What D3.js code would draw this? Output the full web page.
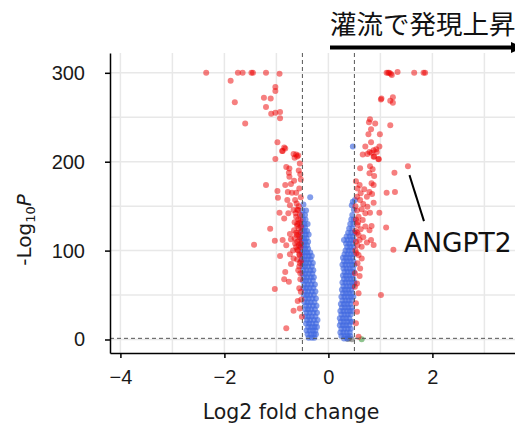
<!DOCTYPE html>
<html>
<head>
<meta charset="utf-8">
<script src="https://cdn.jsdelivr.net/npm/d3@7"></script>
<style>
  body { margin: 0; background: #fff; }
  svg { display: block; font-family: "DejaVu Sans", Verdana, sans-serif; }
  .grid line { stroke: #e8e8e8; stroke-width: 1.5; }
  .axis text { font-size: 20px; fill: #1a1a1a; }
  .axis path, .axis line { stroke: #000; stroke-width: 1.5; }
</style>
</head>
<body>
<svg id="chart" width="515" height="423"></svg>
<script>
// ---- data (log2 fold change, -log10 p) ----
const xTicks = [-4, -2, 0, 2];
const yTicks = [0, 100, 200, 300];
const xGrid = [-4, -3, -2, -1, 0, 1, 2, 3];
const yGrid = [0, 50, 100, 150, 200, 250, 300];
const fcCut = 0.5;
const pCut = 1.3;

// red: significant by both p and fold change
const upDown = [
  [-2.35,300],[-1.74,300],[-1.65,300],[-1.48,300],[-1.45,300],[-1.2,300],[-0.94,299],
  [-1.88,291],[-1.02,284],[-1.02,279.5],[-1.24,272],[-1.11,271],[-1.8,267],[-1.2,261.5],
  [-1.1,254],[-1.02,255],[-0.93,256],[-0.93,249],[-1.6,243],[-0.98,222],[-0.85,216],
  [-0.83,215],[-0.88,212],[-0.62,208],[-0.58,207],[-0.65,204.5],[-1.02,203],[-0.89,212],
  [-0.67,208.7],[-0.6,206],[-0.81,194],[-0.75,192.5],[-0.76,187.6],[-0.54,186],[-0.75,183],
  [-0.66,178.6],[-1.2,173.8],[-0.83,173.8],[-0.72,175],[-0.98,167],[-0.78,166],[-0.7,165],
  [-0.62,165],[-0.97,159.5],[-0.79,157],[-0.64,157],[-0.61,153],[-0.74,151],[-0.67,145.7],
  [-0.58,145.7],[-0.94,142.6],[-0.77,142],[-0.85,136],[-0.62,138],[-0.54,134],[-0.6,130],
  [-1.12,124.6],[-0.66,123],[-0.54,121],[-0.74,118.7],[-0.61,117.5],[-1.03,111],[-0.88,112],
  [-0.72,112.7],[-0.56,112],[-0.64,108],[-1.43,106.6],[-0.81,106],[-0.54,104],[-0.62,104],
  [-0.93,94],[-0.74,96],[-0.67,91],[-0.72,85],[-0.83,76],[-0.54,74.5],[-0.85,67.7],
  [-0.76,65],[-0.54,67.7],[-1.03,56.8],[-0.56,57.6],[-0.53,53.8],[-0.59,43.3],[-0.67,32.4],
  [-0.51,25.6],[-0.81,12.6],[-0.55,198],[-0.57,190],[-0.53,180],[-0.56,170],[-0.53,160],
  [-0.57,150],[-0.55,140],[-0.53,127],[-0.57,125],[-0.55,115],[-0.53,108],[-0.58,100],
  [-0.55,95],[-0.53,88],[-0.56,82],[-0.52,45],[-0.55,35],[-0.6,146],[-0.63,142],[-0.58,135],
  [-0.6,128],[-0.65,132],[-0.56,131],[-0.62,120],[-0.58,118],[-0.6,110],[-0.65,114],
  [-0.57,106],[-0.6,101],[-0.68,100],[-0.56,96],[-0.6,90],[-0.55,86],[-0.58,78],
  [1.12,300],[1.15,300],[1.17,300],[1.2,299],[1.22,297.5],[1.33,301],[1.65,300],[1.83,300],
  [1.86,300],[1.01,270],[1.02,271],[1.24,272.5],[1.19,268.6],[1.24,266.4],[0.8,247.7],
  [0.78,244.3],[0.9,243],[1.19,241],[0.82,236.4],[0.77,231],[0.99,230.8],[0.82,222],
  [0.71,217],[0.98,217],[0.87,213],[0.79,211],[0.92,214],[0.75,208.7],[0.66,208],
  [0.87,205.6],[0.96,203],[0.83,210],[0.88,206],[0.93,211],[0.97,202.7],[0.8,195],
  [0.61,192.6],[0.85,191.4],[0.79,187],[0.88,184],[0.83,175.7],[0.87,173.8],[1.27,187.6],
  [1.53,195],[0.6,173.8],[0.69,169],[0.79,166],[0.62,164.5],[0.74,160.6],[0.84,163.7],
  [1.12,165],[1.28,166],[0.55,160.6],[0.61,157],[0.67,152.4],[0.75,149.4],[0.87,153.9],
  [0.64,146.5],[0.8,142.6],[0.71,142],[0.98,142.6],[0.58,138],[0.66,134.4],[0.56,128.8],
  [0.71,127],[0.62,124],[0.79,123],[0.83,127.7],[1.11,126],[0.58,117.5],[0.67,115],
  [0.6,112],[0.74,109],[0.64,104.4],[0.87,106.3],[0.82,112],[1.25,101],[1.01,50],
  [0.58,95],[0.64,91],[0.56,85.7],[0.61,80],[0.6,71.4],[0.51,74.5],[0.55,63],[0.51,59.4],
  [0.58,52],[0.53,40.7],[0.55,31.3],[0.53,18.2],[0.58,3.1],[0.53,178],[0.56,170],
  [0.52,150],[0.55,145],[0.53,135],[0.57,132],[0.52,122],[0.55,120],[0.53,110],
  [0.56,106],[0.52,100],[0.54,97]
];

// blue: significant p only
const pOnlyLeft = [
  [-0.38,2],[-0.32,2],[-0.27,2],
  [-0.40,6],[-0.34,6],[-0.28,6],[-0.24,6],
  [-0.42,10],[-0.36,10],[-0.30,10],[-0.25,10],
  [-0.39,14],[-0.33,14],[-0.27,14],[-0.22,14],
  [-0.43,18],[-0.37,18],[-0.31,18],[-0.24,18],
  [-0.41,22],[-0.35,22],[-0.28,22],[-0.21,22],
  [-0.44,26],[-0.38,26],[-0.32,26],[-0.25,26],
  [-0.42,30],[-0.36,30],[-0.29,30],[-0.22,30],
  [-0.45,34],[-0.39,34],[-0.33,34],[-0.26,34],
  [-0.43,38],[-0.37,38],[-0.30,38],[-0.23,38],
  [-0.46,42],[-0.40,42],[-0.34,42],[-0.27,42],
  [-0.44,46],[-0.38,46],[-0.31,46],[-0.24,46],
  [-0.47,50],[-0.41,50],[-0.35,50],[-0.28,50],
  [-0.45,54],[-0.39,54],[-0.32,54],[-0.25,54],
  [-0.48,58],[-0.42,58],[-0.36,58],[-0.29,58],
  [-0.46,62],[-0.40,62],[-0.33,62],[-0.26,62],
  [-0.49,66],[-0.43,66],[-0.37,66],[-0.30,66],
  [-0.47,70],[-0.41,70],[-0.34,70],[-0.28,70],
  [-0.50,74],[-0.44,74],[-0.38,74],[-0.31,74],
  [-0.48,78],[-0.42,78],[-0.35,78],[-0.29,78],
  [-0.50,82],[-0.45,82],[-0.39,82],[-0.32,82],
  [-0.49,86],[-0.43,86],[-0.37,86],[-0.30,86],
  [-0.51,90],[-0.46,90],[-0.40,90],[-0.34,90],
  [-0.50,94],[-0.44,94],[-0.38,94],[-0.32,94],
  [-0.51,98],[-0.46,98],[-0.41,98],[-0.35,98],
  [-0.50,102],[-0.45,102],[-0.39,102],
  [-0.52,106],[-0.47,106],[-0.41,106],
  [-0.50,110],[-0.45,110],[-0.39,110],
  [-0.52,114],[-0.47,114],[-0.42,114],
  [-0.50,118],[-0.44,118],[-0.38,118],
  [-0.51,122],[-0.46,122],[-0.41,122],
  [-0.50,126],[-0.45,126],
  [-0.51,130],[-0.46,130],[-0.40,130],
  [-0.49,135],[-0.44,135],
  [-0.51,140],[-0.45,140],
  [-0.50,145],[-0.43,145],
  [-0.48,152],[-0.35,160]
];
const pOnlyRight = [
  [0.30,1],[0.36,1],
  [0.25,4],[0.31,4],[0.37,4],[0.42,4],
  [0.23,8],[0.29,8],[0.35,8],[0.41,8],
  [0.25,12],[0.31,12],[0.37,12],[0.43,12],
  [0.22,16],[0.28,16],[0.34,16],[0.40,16],
  [0.24,20],[0.30,20],[0.36,20],[0.42,20],[0.46,20],
  [0.22,24],[0.28,24],[0.34,24],[0.40,24],
  [0.25,28],[0.31,28],[0.37,28],[0.43,28],
  [0.23,32],[0.29,32],[0.35,32],[0.41,32],[0.46,32],
  [0.26,36],[0.32,36],[0.38,36],[0.44,36],
  [0.24,40],[0.30,40],[0.36,40],[0.42,40],
  [0.27,44],[0.33,44],[0.39,44],[0.45,44],
  [0.25,48],[0.31,48],[0.37,48],[0.43,48],[0.48,48],
  [0.28,52],[0.34,52],[0.40,52],[0.46,52],
  [0.26,56],[0.32,56],[0.38,56],[0.44,56],
  [0.29,60],[0.35,60],[0.41,60],[0.47,60],
  [0.27,64],[0.33,64],[0.39,64],[0.45,64],[0.50,64],
  [0.30,68],[0.36,68],[0.42,68],[0.48,68],
  [0.28,72],[0.34,72],[0.40,72],[0.46,72],
  [0.31,76],[0.37,76],[0.43,76],[0.49,76],
  [0.29,80],[0.35,80],[0.41,80],[0.47,80],
  [0.27,84],[0.33,84],[0.39,84],[0.45,84],[0.50,84],
  [0.30,88],[0.36,88],[0.42,88],[0.48,88],
  [0.28,92],[0.34,92],[0.40,92],[0.46,92],
  [0.31,96],[0.37,96],[0.43,96],[0.49,96],
  [0.33,100],[0.39,100],[0.45,100],
  [0.36,104],[0.42,104],[0.48,104],
  [0.34,108],[0.40,108],[0.46,108],
  [0.30,112],[0.37,112],[0.43,112],[0.49,112],
  [0.35,116],[0.41,116],[0.47,116],
  [0.38,120],[0.44,120],[0.50,120],
  [0.40,125],[0.46,125],
  [0.42,130],[0.48,130],
  [0.44,135],[0.49,135],
  [0.46,140],[0.49,146],[0.45,151],[0.47,155],[0.51,157],[0.47,217]
];
// grey: not significant, green: fold change only
const notSig = [[0.40,1.3],[0.45,0.2],[0.37,0.6]];
const fcOnly = [[0.64,0.2]];

const label = { name: 'ANGPT2', x: 1.53, y: 195 };
const title = '灌流で発現上昇';

// ---- layout ----
const svg = d3.select('#chart');
const x = d3.scaleLinear().domain([-4.2, 3.6]).range([110, 515.6]);
const y = d3.scaleLinear().domain([-15.2, 322.3]).range([353, 53]);
const [x0, x1] = x.range();
const [yb, yt] = y.range();

svg.append('defs').append('clipPath').attr('id', 'panel')
  .append('rect').attr('x', x0).attr('y', yt).attr('width', x1 - x0).attr('height', yb - yt);

// grid
const grid = svg.append('g').attr('class', 'grid');
grid.selectAll('.gx').data(xGrid).join('line')
  .attr('x1', d => x(d)).attr('x2', d => x(d)).attr('y1', yt).attr('y2', yb);
grid.selectAll('.gy').data(yGrid).join('line')
  .attr('y1', d => y(d)).attr('y2', d => y(d)).attr('x1', x0).attr('x2', x1);

// points
const pts = svg.append('g').attr('clip-path', 'url(#panel)');
const layers = [
  [notSig, '#4d4d4d', 0.5],
  [fcOnly, '#228b22', 0.5],
  [pOnlyLeft, '#4169e1', 0.65],
  [pOnlyRight, '#4169e1', 0.65],
  [upDown, '#ee0000', 0.5]
];
layers.forEach(([data, col, op]) => {
  pts.append('g').selectAll('circle').data(data).join('circle')
    .attr('cx', d => x(d[0])).attr('cy', d => y(d[1]))
    .attr('r', 3).attr('fill', col).attr('fill-opacity', op);
});

// cut-off lines
const cuts = svg.append('g').attr('clip-path', 'url(#panel)')
  .attr('stroke', '#555').attr('stroke-width', 1).attr('stroke-dasharray', '4,3');
cuts.selectAll('.v').data([-fcCut, fcCut]).join('line')
  .attr('x1', d => x(d)).attr('x2', d => x(d)).attr('y1', yt).attr('y2', yb);
cuts.append('line').attr('x1', x0).attr('x2', x1).attr('y1', y(pCut)).attr('y2', y(pCut));

// axes
svg.append('g').attr('class', 'axis').attr('transform', `translate(0,${yb})`)
  .call(d3.axisBottom(x).tickValues(xTicks).tickSize(5).tickSizeOuter(0).tickPadding(12));
svg.append('g').attr('class', 'axis').attr('transform', `translate(${x0},0)`)
  .call(d3.axisLeft(y).tickValues(yTicks).tickSize(5).tickSizeOuter(0).tickPadding(20));

// axis titles
svg.append('text').attr('x', 291).attr('y', 419).attr('text-anchor', 'middle')
  .attr('font-size', 20.5).attr('fill', '#1a1a1a').text('Log2 fold change');
const yl = svg.append('text').attr('transform', 'translate(31,230) rotate(-90)')
  .attr('text-anchor', 'middle').attr('font-size', 20).attr('fill', '#1a1a1a');
yl.append('tspan').text('-Log');
yl.append('tspan').attr('font-size', 13).attr('dy', 4).text('10');
yl.append('tspan').attr('font-style', 'italic').attr('dy', -4).text('P');

// gene label with connector
svg.append('line')
  .attr('x1', x(label.x) + 1.5).attr('y1', y(label.y) + 9)
  .attr('x2', x(label.x) + 16).attr('y2', y(label.y) + 55)
  .attr('stroke', '#000').attr('stroke-width', 2);
svg.append('text').attr('x', 404).attr('y', 252)
  .attr('font-size', 26.5).attr('fill', '#111').text(label.name);

// header with arrow
svg.append('text').attr('x', 330).attr('y', 34)
  .attr('font-family', '"Noto Sans CJK JP", sans-serif')
  .attr('font-size', 26.5).attr('fill', '#111').text(title);
svg.append('line').attr('x1', 330).attr('x2', 512).attr('y1', 47.5).attr('y2', 47.5)
  .attr('stroke', '#000').attr('stroke-width', 4);
svg.append('path').attr('d', 'M511,42L524,47.5L511,53Z').attr('fill', '#000');
</script>
</body>
</html>
